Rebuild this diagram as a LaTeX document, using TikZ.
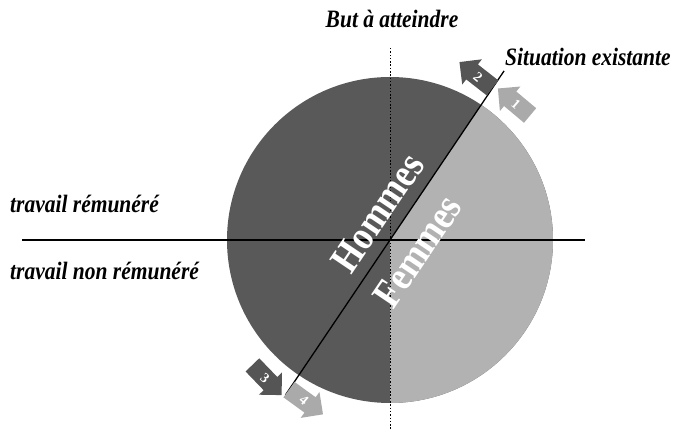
\documentclass[tikz,border=0pt]{standalone}
\usepackage{fontspec}
\setmainfont{Liberation Serif}
\newfontfamily\condserif[FakeStretch=0.86]{Liberation Serif}
\usetikzlibrary{calc}
\definecolor{darkgr}{HTML}{595959}
\definecolor{lightgr}{HTML}{B2B2B2}
\definecolor{arrdark}{HTML}{555555}
\definecolor{arrlight}{HTML}{AAAAAA}
\tikzset{
  lbl/.style={inner sep=0pt, font=\condserif\fontsize{25}{28}\selectfont\bfseries\itshape},
  big/.style={inner sep=0pt, text=white, font=\condserif\fontsize{41}{44}\selectfont\bfseries, rotate=56},
  blockarr/.pic={\fill (-21,-9.5) -- (5,-9.5) -- (5,-16) -- (21,0) -- (5,16) -- (5,9.5) -- (-21,9.5) -- cycle;},
  num/.style={inner sep=0pt, text=white, font=\fontsize{14}{15}\selectfont\bfseries},
  axis/.style={line width=1.3pt, black},
}
\begin{document}
\begin{tikzpicture}[x=1pt,y=1pt]
\useasboundingbox (0,0) rectangle (676,430);
\coordinate (C) at (390,190);
% circle
\fill[darkgr] (C) circle (163);
\fill[lightgr] (C) -- ++(-90:163) arc (-90:56:163) -- cycle;
% axes
\coordinate (hl) at (22,190);
\coordinate (hr) at (585,190);
\coordinate (vt) at (390,382);
\coordinate (vb) at (390,0);
\coordinate (dt) at ($(C)+(56:204)$);
\coordinate (db) at ($(C)+(236:187)$);
\draw[black, line width=1pt, dash pattern=on 1.5pt off 1.8pt] (vt) -- (vb);
\draw[axis] (hl) -- (hr);
\draw[black, line width=1.3pt] (db) -- (dt);
% labels inside
\node[big] (hommes) at ($(C)+(-12.5,27.5)$) {Hommes};
\node[big] (femmes) at ($(C)+(27.5,-11.5)$) {Femmes};
% arrows
\coordinate (a2) at (476,355);
\coordinate (a1) at (514,328);
\coordinate (a3) at (267,50);
\coordinate (a4) at (306,28);
\pic[fill=arrdark, rotate=142] at (a2) {blockarr};
\node[num, rotate=-40] (n2) at ($(a2)+(2,-2)$) {2};
\pic[fill=arrlight, rotate=140] at (a1) {blockarr};
\node[num, rotate=-40] (n1) at ($(a1)+(2,-2)$) {1};
\pic[fill=arrdark, rotate=-46] at (a3) {blockarr};
\node[num, rotate=-40] (n3) at ($(a3)+(-2,2)$) {3};
\pic[fill=arrlight, rotate=-36] at (a4) {blockarr};
\node[num, rotate=-40] (n4) at ($(a4)+(-2,2)$) {4};
% texts
\node[lbl, anchor=base] (but) at (392,402) {But à atteindre};
\node[lbl, anchor=base west] (sit) at (505,364) {Situation existante};
\node[lbl, anchor=base west] (tr) at (10,217) {travail rémunéré};
\node[lbl, anchor=base west] (tnr) at (10,150) {travail non rémunéré};
\end{tikzpicture}
\end{document}
